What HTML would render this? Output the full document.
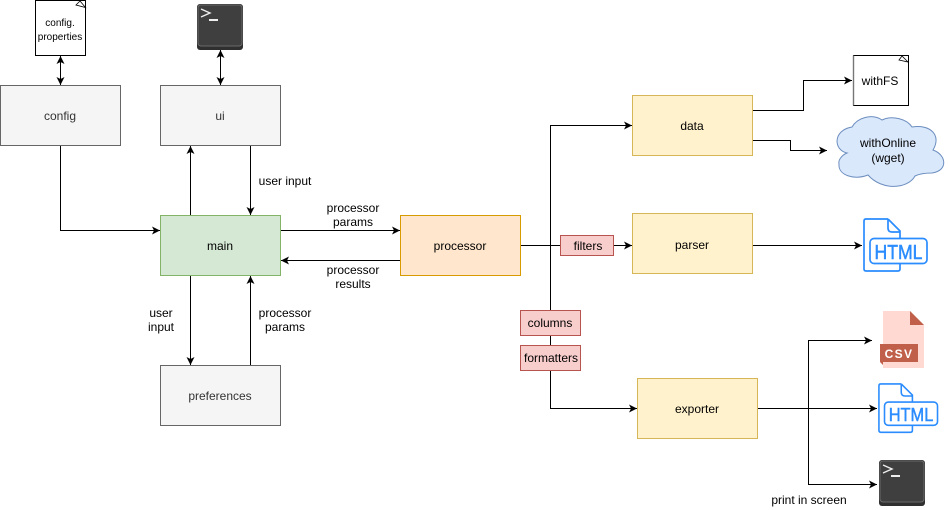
<!DOCTYPE html>
<html><head><meta charset="utf-8">
<style>html,body{margin:0;padding:0;background:#fff}svg{display:block}text{font-family:"Liberation Sans",Helvetica,sans-serif;font-size:12px;text-anchor:middle;fill:#000}</style>
</head><body>
<svg width="949" height="510" viewBox="0 0 949 510" xmlns="http://www.w3.org/2000/svg">
<defs>
<marker id="a" markerUnits="userSpaceOnUse" markerWidth="10" markerHeight="10" refX="9" refY="5" orient="auto-start-reverse"><path d="M1 1 L9 5 L1 9 L3 5 Z" fill="#000"/></marker>
<g id="term">
<rect x="0" y="0" width="46" height="46" rx="3" fill="#2f2f2f"/>
<rect x="1" y="1" width="44" height="41" rx="3" fill="#3f3f3f" stroke="#6a6a6a" stroke-width="1"/>
<path d="M4 5 L13 9 L4 13" fill="none" stroke="#eee" stroke-width="1.4"/>
<rect x="12" y="15" width="9" height="2" fill="#eee"/>
</g>
</defs>

<g fill="none" stroke="#000" stroke-width="1">
<path d="M60.5 56 V85" marker-start="url(#a)" marker-end="url(#a)"/>
<path d="M220.5 50 V85" marker-start="url(#a)" marker-end="url(#a)"/>
<path d="M60.5 145.500 V230.500 H160" marker-end="url(#a)"/>
<path d="M190.500 215.500 V146" marker-end="url(#a)"/>
<path d="M250.500 145.500 V215" marker-end="url(#a)"/>
<path d="M190.500 275.500 V365" marker-end="url(#a)"/>
<path d="M250.500 365.500 V276" marker-end="url(#a)"/>
<path d="M280.500 230.500 H400" marker-end="url(#a)"/>
<path d="M400.500 260.500 H281" marker-end="url(#a)"/>
<path d="M520.500 245.500 H632" marker-end="url(#a)"/>
<path d="M550.500 245.500 V125.500 H632" marker-end="url(#a)"/>
<path d="M550.500 245.500 V408.500 H637" marker-end="url(#a)"/>
<path d="M752.500 110.500 H803.500 V80.500 H852" marker-end="url(#a)"/>
<path d="M752.500 140.500 H790.500 V150.500 H827" marker-end="url(#a)"/>
<path d="M752.500 245.500 H862" marker-end="url(#a)"/>
<path d="M757.500 408.500 H877" marker-end="url(#a)"/>
<path d="M808.500 408.500 V340.500 H872" marker-end="url(#a)"/>
<path d="M808.500 408.500 V484.500 H877" marker-end="url(#a)"/>
</g>

<g stroke-width="1">
<rect x="0.500" y="85.500" width="120" height="60" fill="#f5f5f5" stroke="#666"/>
<rect x="160.500" y="85.500" width="120" height="60" fill="#f5f5f5" stroke="#666"/>
<rect x="160.500" y="215.500" width="120" height="60" fill="#d5e8d4" stroke="#82b366"/>
<rect x="160.500" y="365.500" width="120" height="60" fill="#f5f5f5" stroke="#666"/>
<rect x="400.500" y="215.500" width="120" height="60" fill="#ffe6cc" stroke="#d79b00"/>
<rect x="632.500" y="95.500" width="120" height="60" fill="#fff2cc" stroke="#d6b656"/>
<rect x="632.500" y="213.500" width="120" height="60" fill="#fff2cc" stroke="#d6b656"/>
<rect x="637.500" y="378.500" width="120" height="60" fill="#fff2cc" stroke="#d6b656"/>
<rect x="560.500" y="235.500" width="53" height="20" fill="#f8cecc" stroke="#b85450"/>
<rect x="520.500" y="310.500" width="60" height="25" fill="#f8cecc" stroke="#b85450"/>
<rect x="520.500" y="345.500" width="60" height="25" fill="#f8cecc" stroke="#b85450"/>
</g>

<path d="M35.500 0.500 H85.500 V55.500 H35.500 Z" fill="#fff" stroke="#000" stroke-width="1"/>
<path d="M76 5 L80 1 L85.500 7.500 Z" fill="#fff" stroke="#000" stroke-width="0.8"/>
<path d="M853.500 55.500 H908.500 V105.500 H853.500 Z" fill="#fff" stroke="#000" stroke-width="1"/>
<path d="M853.500 55.500 V105.500" stroke="#777" stroke-width="1.400"/>
<path d="M899 60 L902 56 L908 62 Z" fill="#fff" stroke="#000" stroke-width="0.8"/>

<path d="M847 153 C833 150 833 130 852 127 C857 118 872 113 882 120 C892 115 907 119 912 127 C930 124 942 135 933 150 C947 155 948 171 932 173 C922 173 917 175 915 176 C908 189 882 191 868 175 C855 180 838 176 839 164 C838 160 842 155 847 153 Z" fill="#dae8fc" stroke="#6c8ebf" stroke-width="1"/>

<use href="#term" x="197" y="4"/>
<use href="#term" x="879" y="460"/>

<g transform="translate(863 218)">
<g fill="none" stroke="#2b8cff" stroke-width="1.7">
<path d="M25 1 H3 Q1 1 1 3 V51 Q1 53 3 53 H35 Q37 53 37 51 V45.500"/>
<path d="M25 1 V10 Q25 14 29 14 H37 M25 1 L37 13 V20.500"/>
<rect x="7" y="20.500" width="57" height="25" rx="4"/>
</g>
<text x="35.500" y="41" textLength="48" lengthAdjust="spacingAndGlyphs" style="font-size:20px;fill:#2b8cff;stroke:#2b8cff;stroke-width:.5px">HTML</text>
</g>
<g transform="translate(878 383) scale(.93)">
<g fill="none" stroke="#2b8cff" stroke-width="1.7">
<path d="M25 1 H3 Q1 1 1 3 V51 Q1 53 3 53 H35 Q37 53 37 51 V45.500"/>
<path d="M25 1 V10 Q25 14 29 14 H37 M25 1 L37 13 V20.500"/>
<rect x="7" y="20.500" width="57" height="25" rx="4"/>
</g>
<text x="35.500" y="41" textLength="48" lengthAdjust="spacingAndGlyphs" style="font-size:20px;fill:#2b8cff;stroke:#2b8cff;stroke-width:.5px">HTML</text>
</g>

<path d="M883 311 H910 L924 325 V368 H883 Z" fill="#ffd9d2"/>
<path d="M910 311 L924 325 H910 Z" fill="#c0604a"/>
<path d="M880 344 H918 V362 H883 V365 L880 362 Z" fill="#c0604a"/>
<text x="899" y="358" style="font-weight:bold;font-size:12px;letter-spacing:1.400px;fill:#fff">CSV</text>

<text x="60" y="120" style="fill:#333">config</text>
<text x="220" y="120" style="fill:#333">ui</text>
<text x="220" y="400" style="fill:#333">preferences</text>
<text x="220" y="250">main</text>
<text x="460" y="250">processor</text>
<text x="692" y="130">data</text>
<text x="692" y="249">parser</text>
<text x="697" y="413">exporter</text>
<text x="588" y="250">filters</text>
<text x="550" y="327">columns</text>
<text x="551" y="362">formatters</text>
<text x="60" y="26" style="font-size:10px">config.</text>
<text x="60" y="40" style="font-size:10px">properties</text>
<text x="880" y="85">withFS</text>
<text x="888" y="147">withOnline</text>
<text x="888" y="162">(wget)</text>
<text x="285" y="185">user input</text>
<text x="353" y="212">processor</text>
<text x="353" y="226">params</text>
<text x="353" y="274">processor</text>
<text x="353" y="288">results</text>
<text x="161" y="317">user</text>
<text x="161" y="331">input</text>
<text x="285" y="317">processor</text>
<text x="285" y="331">params</text>
<text x="809" y="504">print in screen</text>
</svg>
</body></html>
